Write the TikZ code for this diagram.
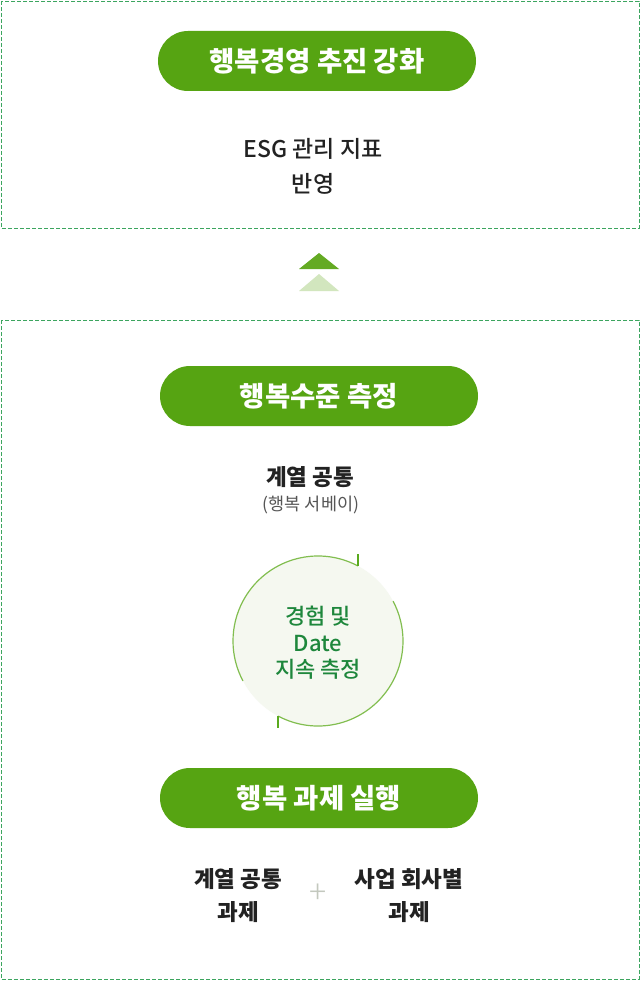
\documentclass[tikz,border=0pt]{standalone}
\usepackage{fontspec}
\setmainfont{Noto Sans CJK KR}
\newfontfamily\medfont{Noto Sans CJK KR Medium}
\usetikzlibrary{calc}
\definecolor{pillgreen}{RGB}{86,164,18}
\definecolor{dashgreen}{RGB}{60,165,95}
\definecolor{txtdark}{RGB}{34,34,34}
\definecolor{txtgray}{RGB}{85,85,85}
\definecolor{circfill}{RGB}{245,248,240}
\definecolor{circline}{RGB}{130,190,80}
\definecolor{tickgreen}{RGB}{90,170,30}
\definecolor{circtxt}{RGB}{30,135,60}
\definecolor{arrdark}{RGB}{100,170,35}
\definecolor{arrlight}{RGB}{210,230,190}
\definecolor{plusgray}{RGB}{195,200,190}
\begin{document}
\begin{tikzpicture}[x=1pt,y=-1pt,
  dashbox/.style={draw=dashgreen,line width=0.9pt,dash pattern=on 4pt off 2pt},
  pill/.style={fill=pillgreen,rounded corners=30pt,minimum width=318pt,minimum height=60pt,inner sep=0pt,text=white,font=\fontsize{27.5}{32}\selectfont\bfseries},
  body/.style={align=center,text=txtdark,font=\fontsize{23}{35}\selectfont\medfont},
  boldbody/.style={align=center,text=txtdark,font=\fontsize{22.5}{33}\selectfont\bfseries},
  subtxt/.style={align=center,text=txtgray,font=\fontsize{17.5}{20}\selectfont},
  circtext/.style={align=center,text=circtxt,font=\fontsize{22}{26.5}\selectfont\medfont}
]
\useasboundingbox (0,0) rectangle (640,984);
\fill[white] (0,0) rectangle (640,984);
% boxes
\draw[dashbox] (1,1) rectangle (639,228);
\draw[dashbox] (1,320) rectangle (639,979);
% top
\node[pill] (p1) at (317,61) {행복경영 추진 강화};
\node[body] (t1) at (313,166) {ESG 관리 지표\\반영};
% arrows
\fill[arrdark] (299,269) -- (319,253) -- (339,269) -- cycle;
\fill[arrlight] (299,291) -- (319,274) -- (339,291) -- cycle;
% middle
\node[pill] (p2) at (319,396) {행복수준 측정};
\node[boldbody] (t2) at (310,477) {계열 공통};
\node[subtxt] (t3) at (311,505) {(행복 서베이)};
% circle
\node[circle,fill=circfill,minimum size=170pt,inner sep=0pt] (c) at (318,641) {};
\draw[circline,line width=1.2pt] ($(c.center)+(62:85 and -85)$) arc[start angle=62,end angle=208,x radius=85,y radius=-85];
\draw[circline,line width=1.2pt] ($(c.center)+(242:85 and -85)$) arc[start angle=242,end angle=388,x radius=85,y radius=-85];
\coordinate (tk1) at ($(c.center)+(62:85 and -85)$);
\coordinate (tk2) at ($(c.center)+(242:85 and -85)$);
\draw[tickgreen,line width=1.3pt] (tk1) -- ++(0,-12);
\draw[tickgreen,line width=1.3pt] (tk2) -- ++(0,12);
\node[circtext] (ct) at (318,643) {경험 및\\Date\\지속 측정};
% bottom
\node[pill] (p3) at (319,798) {행복 과제 실행};
\node[boldbody] (b1) at (238,896) {계열 공통\\과제};
\node[boldbody] (b2) at (409,896) {사업 회사별\\과제};
\node[text=plusgray,font=\fontsize{32}{32}\selectfont\fontspec{Noto Sans CJK KR Light}] (plus) at (318,894) {+};
\end{tikzpicture}
\end{document}
